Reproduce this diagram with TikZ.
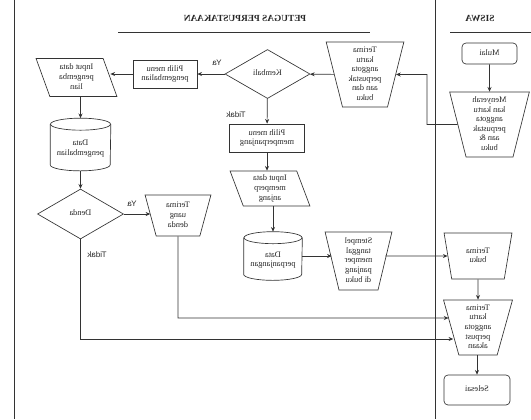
\documentclass[tikz,border=0pt]{standalone}
\usepackage{fontspec}
\setmainfont{Liberation Serif}
\newfontfamily\labfont{Liberation Sans}
\usepackage{graphicx}
\usetikzlibrary{shapes.geometric,arrows.meta}
\newcommand\mr[1]{\reflectbox{\begin{tabular}{@{}c@{}}#1\end{tabular}}}
\newcommand\mrd[1]{\raisebox{-3pt}[\height][\depth]{\mr{#1}}}
\newcommand\cylpath[2]{%
  \draw[ln] ([yshift=-4.5pt]#1.north) ellipse[x radius=#2*0.75pt, y radius=4.5pt];
  \draw[ln] ([yshift=-4.5pt]#1.north west) -- ([yshift=4.5pt]#1.south west)
    arc[start angle=180, end angle=360, x radius=#2*0.75pt, y radius=4.5pt]
    -- ([yshift=-4.5pt]#1.north east);}
\begin{document}
\begin{tikzpicture}[x=0.75pt,y=-0.75pt,line width=0.5pt,
  every node/.style={font=\fontsize{6.3}{7.2}\selectfont, inner sep=1pt, text=black!85},
  ln/.style={draw=black!80},
  arr/.style={ln,-{Stealth[length=3.5pt,width=3pt]}},
  sz/.style 2 args={minimum width=#1*0.75pt, minimum height=#2*0.75pt},
  box/.style={draw=black!80, rectangle},
  rbox/.style={draw=black!80, rectangle, rounded corners=3pt},
  trap/.style={draw=black!80, trapezium, trapezium angle=78, trapezium stretches=true, shape border rotate=180},
  para/.style={draw=black!80, trapezium, trapezium left angle=107, trapezium right angle=73, trapezium stretches=true},
  dia/.style={draw=black!80, diamond, aspect=1.73, inner sep=0pt},
  cyl/.style={rectangle},
  lab/.style={font=\labfont\fontsize{6}{7}\selectfont},
  hdr/.style={font=\bfseries\fontsize{7}{8}\selectfont}]
\useasboundingbox (0,0) rectangle (531,419);

% swimlane frame
\coordinate (v1t) at (14,0);   \coordinate (v1b) at (14,419);
\coordinate (v2t) at (435,0);  \coordinate (v2b) at (435,419);
\draw[ln] (v1t) -- (v1b);
\draw[ln] (v2t) -- (v2b);
\node[hdr] (h1) at (245,19) {\mr{PETUGAS PERPUSTAKAAN}};
\node[hdr] (h2) at (480,19) {\mr{SISWA}};
\coordinate (u1a) at (118,32); \coordinate (u1b) at (370,32);
\coordinate (u2a) at (450,32); \coordinate (u2b) at (531,32);
\draw[ln] (u1a) -- (u1b);
\draw[ln] (u2a) -- (u2b);

% nodes
\node[rbox, sz={55}{21}] (mulai) at (489.5,53.5) {\mr{Mulai}};
\node[trap, sz={80}{65}] (menyer) at (489.5,124.5) {\mr{Menyerah\\kan kartu\\anggota\\perpustak\\aan \&\\buku}};
\node[trap, sz={78}{65}] (trmk) at (365,74.5) {\mr{Terima\\kartu\\anggota\\perpustak\\aan dan\\buku}};
\node[dia, sz={85}{49}] (kemb) at (267.5,74) {\mr{Kembali}};
\node[box, sz={64}{28}] (pmpg) at (165,74) {\mr{Pilih menu\\pengembalian}};
\node[para, sz={81}{38}] (inpg) at (76.5,77.5) {\mr{Input data\\pengemba\\lian}};
\node[cyl, sz={60}{52}] (dpg) at (80.5,144.5) {\mrd{Data\\pengembalian}};
\node[dia, sz={86}{50}] (denda) at (80.5,214) {\mr{Denda}};
\node[trap, sz={66}{41}] (tud) at (178,215.5) {\mr{Terima\\uang\\denda}};
\node[box, sz={75}{28}] (pmpj) at (267,138) {\mr{Pilih menu\\memperpanjang}};
\node[para, trapezium left angle=106, trapezium right angle=74, sz={80}{35}] (inpj) at (270,188.5) {\mr{Input data\\memperp\\anjang}};
\node[cyl, sz={58}{48}] (dpj) at (273,256) {\mrd{Data\\perpanjangan}};
\node[trap, sz={67}{58}] (stmp) at (358.5,261) {\mr{Stempel\\tanggal\\memper\\panjang\\di buku}};
\node[trap, trapezium angle=80, sz={68}{46}] (trbk) at (478,256) {\mr{Terima\\buku}};
\node[trap, trapezium angle=77, sz={69}{55}] (trka) at (478,327.5) {\mr{Terima\\kartu\\anggota\\perpust\\akaan}};
\node[rbox, sz={66}{30}] (sel) at (477,390) {\mr{Selesai}};
\cylpath{dpg}{30}
\cylpath{dpj}{29}

% labels
\node[lab] (ya1) at (217,64) {\mr{Ya}};
\node[lab] (td1) at (236,116) {\mr{Tidak}};
\node[lab] (ya2) at (132,205) {\mr{Ya}};
\node[lab] (td2) at (97,256) {\mr{Tidak}};

% connectors
\coordinate (m1) at (427,74.5);
\coordinate (j1) at (178,318);
\coordinate (j2) at (80.5,339);
\draw[arr] (mulai) -- (menyer);
\draw[arr] (menyer.west) -| (m1) -- (trmk.east);
\draw[arr] (trmk) -- (kemb);
\draw[arr] (kemb) -- (pmpg);
\draw[arr] (pmpg) -- (pmpg -| inpg.east);
\draw[arr] (dpg |- inpg.south) -- (dpg);
\draw[arr] (dpg) -- (denda);
\draw[arr] (denda.east) -- (denda.east -| tud.west);
\draw[arr] (kemb) -- (pmpj);
\draw[arr] (pmpj.south) -- (pmpj.south |- inpj.north);
\draw[arr] (dpj |- inpj.south) -- (dpj);
\draw[arr] (dpj) -- (dpj -| stmp.west);
\draw[arr] (stmp.east |- trbk) -- (trbk.west);
\draw[arr] (trbk) -- (trka);
\draw[arr] (sel |- trka.south) -- (sel);
\draw[arr] (tud.south) -- (j1) -- ([xshift=-1.8pt]j1 -| trka.west);
\draw[arr] (denda.south) -- (j2) -- ([xshift=1.8pt]j2 -| trka.west);
\end{tikzpicture}
\end{document}
